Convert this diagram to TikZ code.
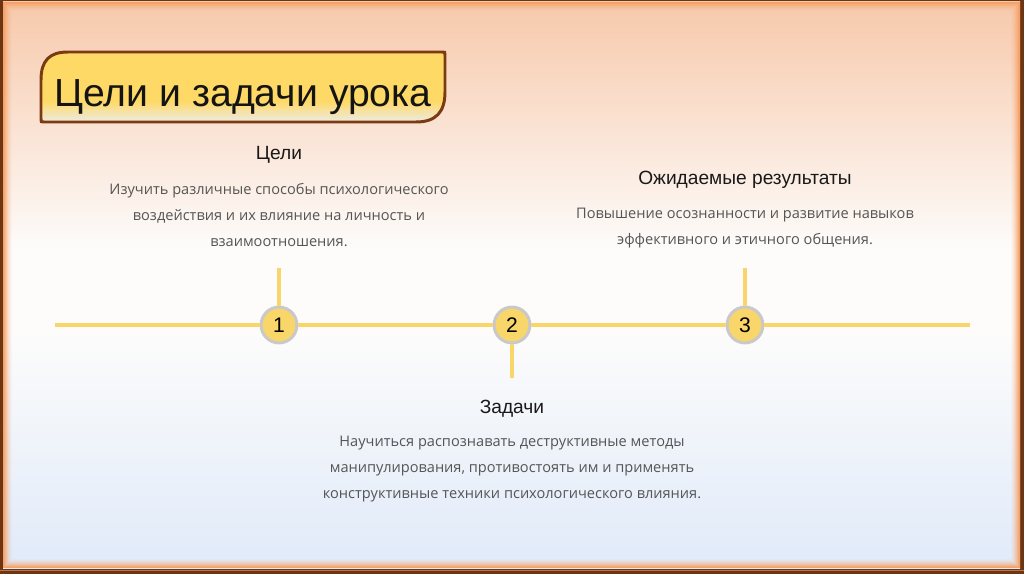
\documentclass[tikz,border=0pt]{standalone}
\usepackage{fontspec}
\setmainfont{Liberation Sans}
\newfontfamily\bodyfont{Open Sans}
\definecolor{frameD}{HTML}{6E3512}
\definecolor{glow}{HTML}{F5A066}
\definecolor{bgTop}{HTML}{F7C9AB}
\definecolor{bgMid}{HTML}{FDFCFB}
\definecolor{bgBot}{HTML}{E0EAF9}
\definecolor{titleY}{HTML}{FFD966}
\definecolor{titleB}{HTML}{ECEBE4}
\definecolor{titleBorder}{HTML}{7A3B12}
\definecolor{lineY}{HTML}{F9D66A}
\definecolor{circG}{HTML}{C9C9C9}
\definecolor{bodyG}{HTML}{555555}
\pgfdeclareverticalshading{bgshade}{100bp}{color(0bp)=(bgBot); color(25bp)=(bgBot); color(46bp)=(bgMid); color(53bp)=(bgMid); color(75bp)=(bgTop); color(100bp)=(bgTop)}
\pgfdeclareverticalshading{titleshade}{100bp}{color(0bp)=(titleB); color(25bp)=(titleB); color(40bp)=(titleY); color(75bp)=(titleY); color(100bp)=(titleY)}
\tikzset{
  tline/.style={lineY, line width=2.3pt},
  numcirc/.style={circle, draw=circG, line width=1.7pt, fill=lineY, minimum size=20.4pt, inner sep=0pt, font=\fontsize{12}{13}\selectfont, text=black},
  headtxt/.style={font=\fontsize{10.9}{13}\selectfont, text=black!90},
  bodytxt/.style={font=\bodyfont\fontsize{8.3}{14.7}\selectfont, text=bodyG, align=center, inner sep=0pt},
}
\begin{document}
\begin{tikzpicture}[x=0.02cm, y=-0.02cm]
\useasboundingbox (0,0) rectangle (1024,574);
% frame
\fill[frameD] (0,0) rectangle (1024,574);
\shade[shading=bgshade] (3,2) rectangle (1020,568);
\foreach \i/\o in {0/1,1/0.85,2/0.7,3/0.55,4/0.42,5/0.3,6/0.2,7/0.12,8/0.06}
  \draw[glow, opacity=\o, line width=0.6pt] (3.5+\i,2.5+\i) rectangle (1019.5-\i,567.5-\i);
\draw[glow!60!frameD, line width=0.4pt] (0,570.5) -- (1024,570.5);
% title
\shade[shading=titleshade, draw=titleBorder, line width=1.7pt]
  (41,119) -- (41,80) .. controls (41,60) and (50,52) .. (68,52) -- (442,52)
  .. controls (445,52) .. (445,55) -- (445,92) .. controls (445,112) and (436,122) .. (416,122)
  -- (44,122) .. controls (41,122) .. (41,119) -- cycle;
\node[font=\fontsize{22.3}{25}\selectfont, text=black!92, anchor=base] (title) at (243,107) {Цели и задачи урока};
% timeline
\coordinate (tl0) at (55,325);
\coordinate (tl1) at (970,325);
\node[numcirc] (c1) at (279,325) {1};
\node[numcirc] (c2) at (512,325) {2};
\node[numcirc] (c3) at (745,325) {3};
\coordinate (s1) at (279,268);
\coordinate (s2) at (512,378);
\coordinate (s3) at (745,268);
\draw[tline] (tl0) -- (c1);
\draw[tline] (c1) -- (c2);
\draw[tline] (c2) -- (c3);
\draw[tline] (c3) -- (tl1);
\draw[tline] (s1) -- (c1);
\draw[tline] (c2) -- (s2);
\draw[tline] (s3) -- (c3);
% texts
\node[headtxt] (h1) at (279,155) {Цели};
\node[bodytxt] (b1) at (279,215) {Изучить различные способы психологического\\воздействия и их влияние на личность и\\взаимоотношения.};
\node[headtxt] (h3) at (745,180) {Ожидаемые результаты};
\node[bodytxt] (b3) at (745,228) {Повышение осознанности и развитие навыков\\эффективного и этичного общения.};
\node[headtxt] (h2) at (512,409) {Задачи};
\node[bodytxt] (b2) at (512,469) {Научиться распознавать деструктивные методы\\манипулирования, противостоять им и применять\\конструктивные техники психологического влияния.};
\end{tikzpicture}
\end{document}
